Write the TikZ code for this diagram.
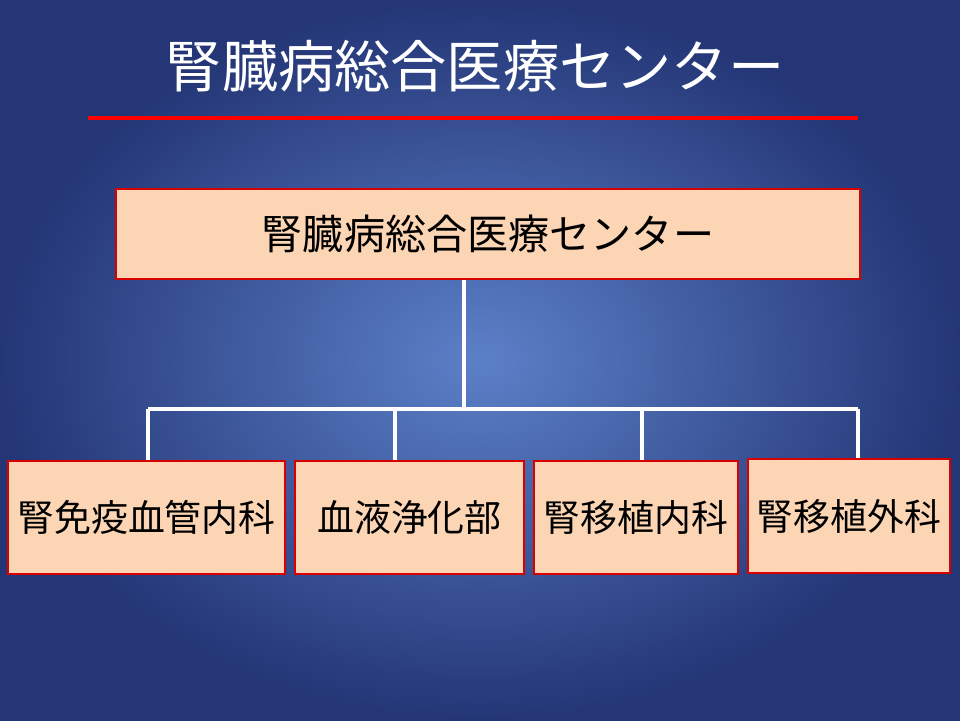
\documentclass[tikz,border=0pt]{standalone}
\usepackage{fontspec}
\setmainfont{Noto Sans CJK JP}
\begin{document}
\begin{tikzpicture}[x=0.02cm,y=-0.02cm,
  box/.style={draw=red!85!black,line width=1.5pt,fill={rgb,255:red,252;green,213;blue,180},inner sep=0pt},
  conn/.style={draw=white,line width=1.8pt}]
\definecolor{bgin}{RGB}{92,128,200}
\definecolor{bgout}{RGB}{36,54,118}
\path[inner color=bgin,outer color=bgout] (0,0) rectangle (960,720);
\useasboundingbox (0,0) rectangle (960,720);
\node[text=white,font=\fontsize{32}{36}\selectfont] (title) at (475,66) {腎臓病総合医療センター};
\draw[red,line width=2pt] (88,118) coordinate (l1) -- (858,118) coordinate (l2);
\node[box,minimum width=744*0.02cm,minimum height=90*0.02cm,font=\fontsize{23.4}{26}\selectfont] (top) at (488,234) {腎臓病総合医療センター};
\node[box,minimum width=277*0.02cm,minimum height=113*0.02cm,font=\fontsize{21}{24}\selectfont] (b1) at (146.5,517.5) {腎免疫血管内科};
\node[box,minimum width=229*0.02cm,minimum height=113*0.02cm,font=\fontsize{21}{24}\selectfont] (b2) at (409.5,517.5) {血液浄化部};
\node[box,minimum width=204*0.02cm,minimum height=113*0.02cm,font=\fontsize{21}{24}\selectfont] (b3) at (636,517.5) {腎移植内科};
\node[box,minimum width=202*0.02cm,minimum height=114*0.02cm,font=\fontsize{21}{24}\selectfont] (b4) at (849,516) {腎移植外科};
\coordinate (j) at (464,409);
\draw[conn] (464,0 |- top.south) -- (j);
\draw[conn] (148,409) -- (858,409);
\draw[conn] (148,409) -- (148,0 |- b1.north);
\draw[conn] (395,409) -- (395,0 |- b2.north);
\draw[conn] (642,409) -- (642,0 |- b3.north);
\draw[conn] (858,409) -- (858,0 |- b4.north);
\end{tikzpicture}
\end{document}
